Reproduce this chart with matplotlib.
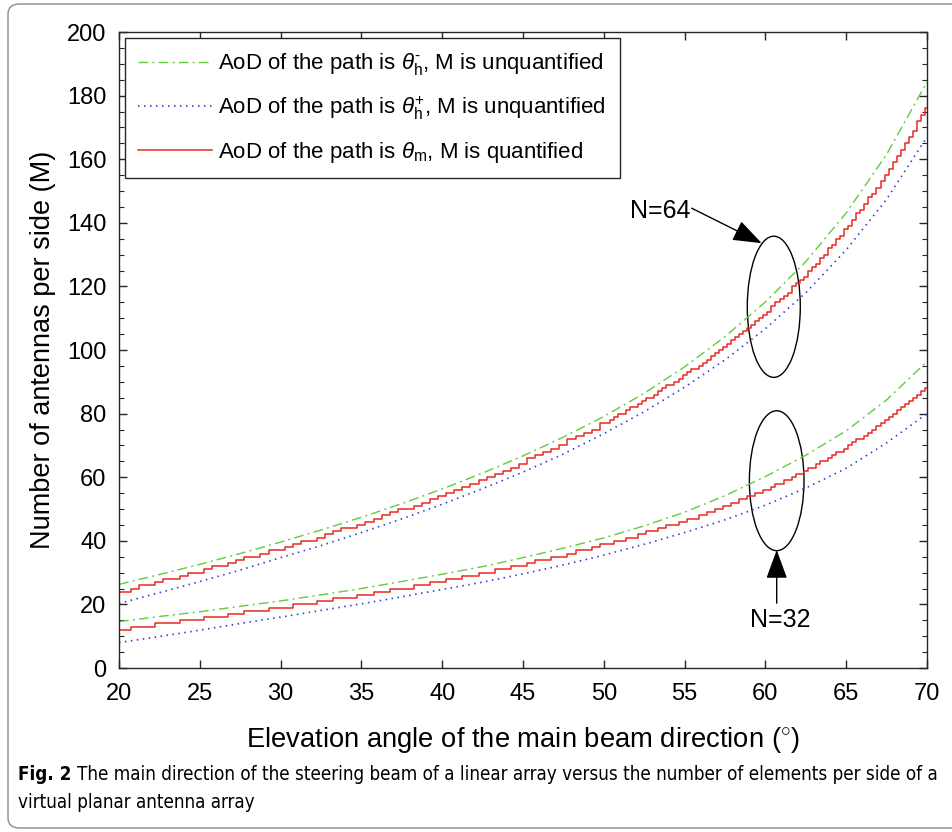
"""
Number of antennas per side of the virtual planar array versus the
elevation angle of the main beam, for N = 64 and N = 32.
"""

import numpy as np
import matplotlib
matplotlib.use('Agg')
import matplotlib.pyplot as plt
from matplotlib.patches import Ellipse, FancyBboxPatch

plt.rcParams['font.family'] = ['Liberation Sans', 'DejaVu Sans']
plt.rcParams['mathtext.fontset'] = 'custom'
plt.rcParams['mathtext.rm'] = 'Liberation Sans'
plt.rcParams['mathtext.it'] = 'Liberation Sans:italic'

# --- unquantified curves, sampled every 2.5 degrees
angle_smooth = [20, 22.5, 25, 27.5, 30, 32.5, 35, 37.5, 40, 42.5, 45,
                47.5, 50, 52.5, 55, 57.5, 60, 62.5, 65, 67.5, 70]

m_minus_64 = [26.3, 29.4, 32.6, 36.0, 39.6, 43.4, 47.4, 51.7, 56.3, 61.3, 66.7,
              72.6, 79.1, 86.4, 94.7, 104.2, 115.1, 127.8, 143.1, 161.5, 184.3]
m_plus_64 = [20.3, 23.7, 27.2, 30.8, 34.7, 38.5, 42.6, 46.9, 51.5, 56.4, 61.6,
             67.3, 73.7, 80.6, 88.3, 96.9, 106.7, 118.0, 131.5, 147.4, 167.0]
m_minus_32 = [14.6, 16.2, 17.7, 19.4, 21.1, 23.0, 25.0, 27.2, 29.5, 31.9, 34.7,
              37.7, 40.9, 44.7, 49.0, 54.2, 60.2, 66.9, 74.6, 84.3, 96.4]
m_plus_32 = [8.0, 9.9, 11.9, 14.0, 16.0, 18.1, 20.2, 22.4, 24.7, 27.0, 29.6,
             32.4, 35.5, 38.9, 42.6, 46.6, 51.2, 56.6, 62.8, 70.8, 80.0]

# --- quantified curves (integer M): every 0.5 deg up to 50, then every 0.25 deg
angle_quant = np.concatenate([np.arange(20, 50, 0.5), np.arange(50, 70.1, 0.25)])

m_quant_64 = [24, 24, 25, 26, 26, 27, 28, 28, 29, 30, 30, 31, 32, 32, 33, 34,
              35, 35, 36, 37, 37, 38, 39, 40, 40, 41, 42, 43, 44, 44, 45, 46,
              47, 48, 49, 50, 50, 51, 52, 53, 54, 55, 56, 57, 58, 59, 60, 61,
              62, 63, 64, 66, 67, 68, 69, 70, 72, 73, 74, 75,
              77, 77, 78, 79, 80, 80, 81, 82, 82, 83, 84, 85, 85, 86, 87, 88,
              89, 89, 90, 91, 92, 93, 94, 94, 95, 96, 97, 98, 99, 100, 101,
              102, 103, 104, 105, 106, 107, 108, 109, 110, 111, 112, 114, 115,
              116, 117, 118, 120, 121, 122, 123, 125, 126, 127, 129, 130, 132,
              133, 135, 136, 138, 139, 141, 143, 144, 146, 148, 149, 151, 153,
              155, 157, 159, 161, 163, 165, 167, 169, 172, 174, 176]
m_quant_32 = [12, 12, 13, 13, 13, 14, 14, 14, 15, 15, 15, 16, 16, 16, 17, 17,
              18, 18, 18, 19, 19, 19, 20, 20, 20, 21, 21, 22, 22, 22, 23, 23,
              24, 24, 25, 25, 25, 26, 26, 27, 27, 28, 28, 29, 29, 30, 30, 31,
              31, 32, 32, 33, 34, 34, 35, 35, 36, 37, 37, 38,
              39, 39, 39, 40, 40, 40, 41, 41, 41, 42, 42, 43, 43, 43, 44, 44,
              45, 45, 45, 46, 46, 47, 47, 47, 48, 48, 49, 49, 50, 50, 51, 51,
              52, 52, 53, 53, 54, 54, 55, 55, 56, 56, 57, 58, 58, 59, 59, 60,
              61, 61, 62, 63, 63, 64, 65, 65, 66, 67, 68, 68, 69, 70, 71, 72,
              72, 73, 74, 75, 76, 77, 78, 79, 80, 81, 82, 83, 84, 85, 86, 87, 88]

green = '#62cc3c'
blue = '#2b3fc4'
red = '#e82a22'

fig = plt.figure(figsize=(9.53, 8.32), dpi=100)
ax = fig.add_axes([0.1249, 0.1971, 0.8478, 0.7644])

labels = [r'AoD of the path is $\theta_{\rm h}^{\text{-}}$, M is unquantified',
          r'AoD of the path is $\theta_{\rm h}^{+}$, M is unquantified',
          r'AoD of the path is $\theta_{\rm m}$, M is quantified']

# N = 64
l1, = ax.plot(angle_smooth, m_minus_64, color=green, lw=1.0,
              dashes=(7, 3, 1.5, 3), label=labels[0])
l2, = ax.plot(angle_smooth, m_plus_64, color=blue, lw=1.2,
              dashes=(0.9, 2.7), label=labels[1])
l3, = ax.plot(angle_quant, m_quant_64, color=red, lw=1.1,
              drawstyle='steps-mid', label=labels[2])
# N = 32
ax.plot(angle_smooth, m_minus_32, color=green, lw=1.0, dashes=(7, 3, 1.5, 3))
ax.plot(angle_smooth, m_plus_32, color=blue, lw=1.2, dashes=(0.9, 2.7))
ax.plot(angle_quant, m_quant_32, color=red, lw=1.1, drawstyle='steps-mid')

# --- ellipses and arrows marking the two groups
ax.add_patch(Ellipse((60.52, 113.6), 3.28, 44.4, fill=False, ec='k', lw=1.0))
ax.add_patch(Ellipse((60.70, 58.9), 3.38, 44.0, fill=False, ec='k', lw=1.0))

head = '-|>,head_length=0.9,head_width=0.33'
ax.annotate('', xy=(59.77, 133.6), xytext=(55.44, 144.6),
            arrowprops=dict(arrowstyle=head, color='k', lw=1.0,
                            mutation_scale=20, shrinkA=0, shrinkB=0))
ax.annotate('', xy=(60.70, 37.1), xytext=(60.70, 20.4),
            arrowprops=dict(arrowstyle=head, color='k', lw=1.0,
                            mutation_scale=20, shrinkA=0, shrinkB=0))
ax.text(55.38, 143.7, 'N=64', ha='right', va='center', fontsize=18)
ax.text(60.9, 15.1, 'N=32', ha='center', va='center', fontsize=18)

# --- axes
ax.set_xlim(20, 70)
ax.set_ylim(0, 200)
ax.set_xticks(range(20, 71, 5))
ax.set_yticks(range(0, 201, 20))
ax.set_yticks(range(0, 201, 5), minor=True)
ax.tick_params(which='both', direction='in', top=True, right=True,
               colors='#262626', labelcolor='k', labelsize=17)
ax.tick_params(which='major', length=5.8, width=1.0)
ax.tick_params(which='minor', length=3.6, width=0.8)
ax.tick_params(axis='x', pad=11)
ax.tick_params(axis='y', pad=9)
for sp in ax.spines.values():
    sp.set_color('#262626')
    sp.set_linewidth(1.0)

ax.set_xlabel(r'Elevation angle of the main beam direction ($^{\circ}$)',
              fontsize=19.7)
ax.set_ylabel('Number of antennas per side (M)', fontsize=19.5)
ax.xaxis.set_label_coords(0.5, -0.113)
ax.xaxis.label.set_va('center')
ax.yaxis.set_label_coords(-0.094, 0.5)
ax.yaxis.label.set_va('center')

leg = ax.legend(handles=[l1, l2, l3], loc='upper left', fontsize=16,
                handlelength=3.3, labelspacing=0.78, borderaxespad=0.25,
                fancybox=False, framealpha=1, edgecolor='#262626',
                handletextpad=0.3, borderpad=0.62)
leg.get_frame().set_linewidth(1.0)

# --- caption and outer frame
frame = FancyBboxPatch((8 / 953, 4 / 832), 960 / 953, 824 / 832,
                       boxstyle='round,pad=0,rounding_size=0.012',
                       transform=fig.transFigure, fill=False,
                       ec='#8c8c8c', lw=1.0, clip_on=False)
fig.patches.append(frame)

cap_font = ['DejaVu Sans']
renderer = fig.canvas.get_renderer()
t = fig.text(18 / 953, 1 - 775 / 832, 'Fig. 2', family=cap_font,
             stretch='condensed', weight='bold', fontsize=13, va='center')
bb = t.get_window_extent(renderer)
line1 = fig.text((bb.x1 + 8) / 953, 1 - 775 / 832,
                 'The main direction of the steering beam of a linear array '
                 'versus the number of elements per side of a',
                 family=cap_font, stretch='condensed', fontsize=13,
                 va='center')
# size the caption so that its first line ends near the right margin
w = line1.get_window_extent(renderer).width
size = 13 * (940 - bb.x1 - 8) / w
line1.set_fontsize(size)
t.set_fontsize(size)
fig.text(18 / 953, 1 - 802 / 832, 'virtual planar antenna array',
         family=cap_font, stretch='condensed', fontsize=size, va='center')

fig.savefig('out.png', dpi=100)
